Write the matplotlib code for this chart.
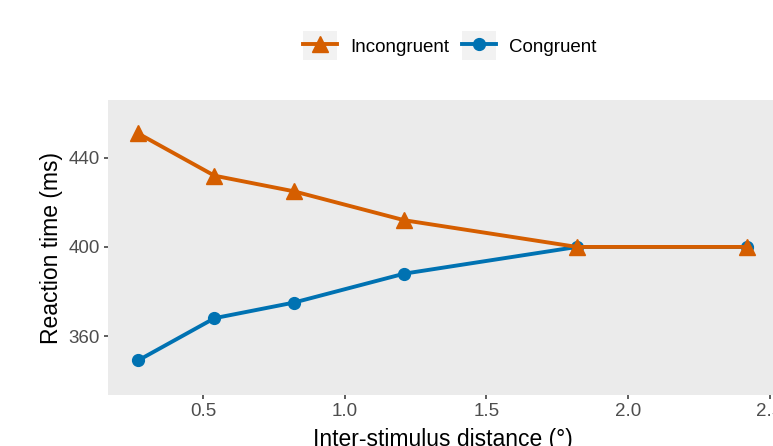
import matplotlib
matplotlib.use("Agg")
import matplotlib.pyplot as plt
from matplotlib.legend_handler import HandlerLine2D
from matplotlib.patches import Rectangle

# Mean reaction times per inter-stimulus distance
distance = [0.27, 0.54, 0.82, 1.21, 1.82, 2.42]
incongruent = [451, 432, 425, 412, 400, 400]
congruent = [349, 368, 375, 388, 400, 400]

ORANGE = "#D55E00"
BLUE = "#0072B2"

plt.rcParams["font.family"] = ["Liberation Sans", "DejaVu Sans"]


class KeyHandler(HandlerLine2D):
    """Legend key with a light grey box behind the line and marker"""

    def create_artists(self, legend, orig_handle, xdescent, ydescent,
                       width, height, fontsize, trans):
        box = Rectangle((-xdescent, -ydescent - 0.25 * height), width, height * 1.5,
                        facecolor="#F2F2F2", edgecolor="none", transform=trans)
        arts = super().create_artists(legend, orig_handle, xdescent, ydescent,
                                      width, height, fontsize, trans)
        return [box] + list(arts)


fig = plt.figure(figsize=(7.73, 4.46), dpi=100)
ax = fig.add_axes([108 / 773, 51 / 446, 670 / 773, 295 / 446])
ax.set_facecolor("#EBEBEB")

# congruent first so the orange triangles sit on top where the lines meet
ax.plot(distance, congruent, color=BLUE, lw=2.8, marker="o", ms=8.5,
        label="Congruent", zorder=2)
ax.plot(distance, incongruent, color=ORANGE, lw=2.8, marker="^", ms=11,
        label="Incongruent", zorder=3)

ax.set_xlim(0.164, 2.53)
ax.set_ylim(333.5, 466)
ax.set_xticks([0.5, 1.0, 1.5, 2.0, 2.5])
ax.set_yticks([360, 400, 440])

for s in ax.spines.values():
    s.set_visible(False)
ax.tick_params(length=3.2, width=1.1, color="#333333", labelcolor="#4D4D4D",
               labelsize=13.5, pad=2.5)

ax.set_ylabel("Reaction time (ms)", fontsize=16.5, labelpad=4)
ax.set_xlabel("Inter-stimulus distance (°)", fontsize=16.5, labelpad=6)

handles, labels = ax.get_legend_handles_labels()
fig.legend(handles[::-1], labels[::-1], loc="center",
           bbox_to_anchor=(450 / 773, 1 - 46 / 446), ncol=2,
           frameon=False, fontsize=13.5, handlelength=1.8, handleheight=1.2,
           handletextpad=0.7, columnspacing=0.7, numpoints=1,
           handler_map={matplotlib.lines.Line2D: KeyHandler()})

fig.savefig("out.png", dpi=100)
